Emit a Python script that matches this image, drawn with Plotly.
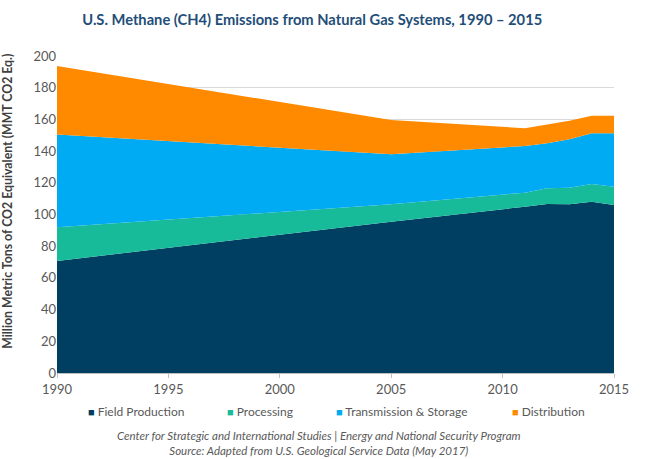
import plotly.graph_objects as go

years = [1990, 2005, 2011, 2012, 2013, 2014, 2015]
field_production = [70.7, 95.5, 104.9, 106.6, 106.4, 108.1, 106.0]
processing = [21.3, 10.9, 8.9, 9.9, 10.5, 11.1, 11.5]
transmission_storage = [58.4, 31.6, 29.4, 28.4, 30.5, 32.0, 33.7]
distribution = [43.3, 21.6, 11.2, 11.8, 11.8, 11.1, 11.1]

series = [
    ("Field Production", field_production, "#003F62"),
    ("Processing", processing, "#17BB9A"),
    ("Transmission & Storage", transmission_storage, "#00ABF4"),
    ("Distribution", distribution, "#FF8A00"),
]
legend_px = [86, 225, 334, 510]  # left edge of each legend entry, in pixels

FONT = "Lato, 'Open Sans', sans-serif"
L, R, T, B, W, H = 57, 56, 56, 86, 670, 459
PW, PH = W - L - R, H - T - B

fig = go.Figure()
for name, vals, color in series:
    fig.add_trace(go.Scatter(
        x=years, y=vals, name=name, mode="lines",
        stackgroup="one", line=dict(width=0, color=color),
        fillcolor=color, showlegend=False,
    ))

annotations = [
    dict(
        text="<b>Million Metric Tons of CO2 Equivalent (MMT CO2 Eq.)</b>",
        xref="paper", yref="paper", x=-0.088, y=0.543, xanchor="center", yanchor="middle",
        textangle=-90, showarrow=False, font=dict(size=12.3, color="#404040", family=FONT),
    ),
    dict(
        text="<i>Center for Strategic and International Studies | Energy and National Security Program<br>Source: Adapted from U.S. Geological Service Data (May 2017)</i>",
        xref="paper", yref="paper", x=0.47, y=(T + PH - 443) / PH, xanchor="center", yanchor="middle",
        showarrow=False, font=dict(size=11.5, color="#595959", family=FONT), align="center",
    ),
]
for (name, _, color), px in zip(series, legend_px):
    annotations.append(dict(
        text=f'<span style="color:{color};font-size:11px">■</span> {name}',
        xref="paper", yref="paper", x=(px - L) / PW, y=(T + PH - 411) / PH,
        xanchor="left", yanchor="middle", showarrow=False,
        font=dict(size=12, color="#595959", family=FONT),
    ))

fig.update_layout(
    width=W, height=H,
    margin=dict(l=L, r=R, t=T, b=B),
    paper_bgcolor="white", plot_bgcolor="white",
    font=dict(family=FONT, color="#595959"),
    title=dict(
        text="<b>U.S. Methane (CH4) Emissions from Natural Gas Systems, 1990 – 2015</b>",
        x=0.466, xanchor="center", y=0.956, yanchor="middle",
        font=dict(size=14.7, color="#1F4E79", family=FONT),
    ),
    showlegend=False,
    xaxis=dict(
        range=[1990, 2015], tickmode="array", tickvals=[1990, 1995, 2000, 2005, 2010, 2015],
        showgrid=False, showline=True, linecolor="#BFBFBF", linewidth=1,
        ticks="outside", ticklen=4, tickcolor="#BFBFBF",
        tickfont=dict(size=13, color="#595959"), zeroline=False,
    ),
    yaxis=dict(
        range=[0, 200], dtick=20, showgrid=True, gridcolor="#D9D9D9", gridwidth=1,
        showline=False, zeroline=False,
        tickfont=dict(size=13, color="#595959"),
    ),
    annotations=annotations,
)

fig.write_html("out.html", config={"displayModeBar": False},
               post_script="document.body.style.margin='0px';document.body.style.padding='0px';")
